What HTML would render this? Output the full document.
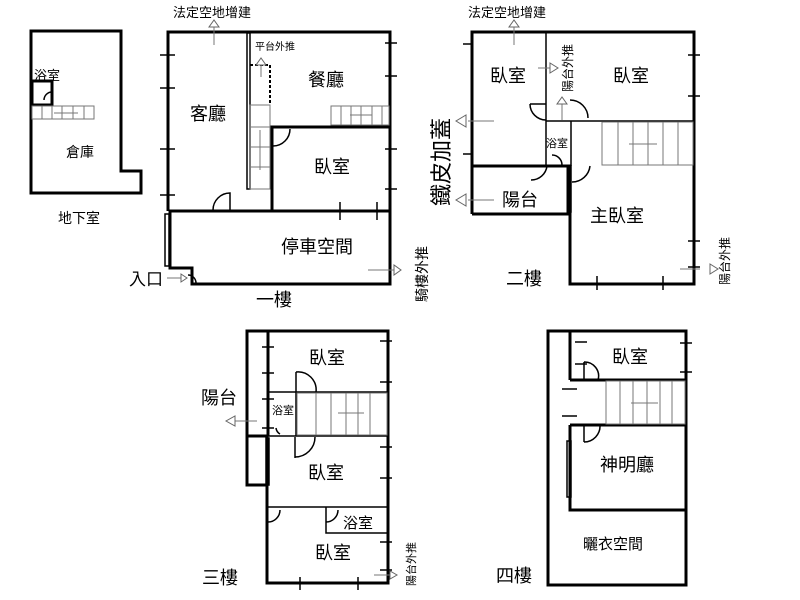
<!DOCTYPE html>
<html><head><meta charset="utf-8"><style>
body{margin:0;background:#fff;}
svg{display:block;}
text{font-family:"Liberation Sans","Noto Sans CJK TC",sans-serif;fill:#000;}
.w{stroke:#000;stroke-width:3;fill:none;}
.t{stroke:#000;stroke-width:1.5;fill:none;}
.g{stroke:#777;stroke-width:1;fill:none;}
.ar{stroke:#666;stroke-width:1;fill:#fff;}
</style></head><body>
<svg width="800" height="600" viewBox="0 0 800 600" xmlns="http://www.w3.org/2000/svg">
<!-- Basement -->
<polygon class="w" points="31,31 121,31 121,171 141,171 141,193 31,193"/>
<rect class="w" x="32" y="81" width="20" height="24"/>
<path class="t" d="M44,100 a8,8 0 0 1 8,-8"/>
<rect class="g" x="32" y="106" width="62" height="13"/>
<path class="g" d="M42,106v13M52,106v13M62,106v13M73,106v13M84,106v13M54,113h24"/>
<text x="34" y="80" font-size="13">浴室</text>
<text x="66" y="157" font-size="14">倉庫</text>
<text x="58" y="223" font-size="14">地下室</text>

<!-- First floor -->
<polyline class="w" points="168,211 168,32 390,32 390,284 192,284 192,268 170,268 170,211 390,211"/>
<rect class="t" x="165" y="214" width="4" height="52"/>
<rect class="t" x="247" y="33" width="3" height="156"/>
<rect class="g" x="250" y="105" width="20" height="84"/>
<path class="g" d="M250,127h20M250,147h20M250,167h20M260,170v-40"/>
<path d="M250,65h20v40" stroke="#000" stroke-width="2" stroke-dasharray="3,2" fill="none"/>
<polyline class="w" points="272,211 272,127 390,127"/>
<rect class="g" x="331" y="106" width="58" height="19"/>
<path class="g" d="M341,106v19M351,106v19M361,106v19M372,106v19M382,106v19M350,115h22"/>
<path class="t" d="M273,146 a17,17 0 0 0 17,-17M213,210 a17,17 0 0 1 17,-17v17M196,283 a8,8 0 0 0 -8,-8"/>
<path class="t" d="M160,55h15M160,88h15M160,149h15M160,195h15M385,43h12M385,76h12M385,149h12M385,189h12M340,202v18M377,202v18"/>
<text x="190" y="120" font-size="18">客廳</text>
<text x="308" y="86" font-size="18">餐廳</text>
<text x="314" y="173" font-size="18">臥室</text>
<text x="281" y="253" font-size="18">停車空間</text>
<text x="129" y="285" font-size="17">入口</text>
<text x="256" y="306" font-size="18">一樓</text>
<text x="173" y="17" font-size="13">法定空地增建</text>
<text x="255" y="50" font-size="10" fill="#444">平台外推</text>
<path class="g" d="M214,45v-18M261,77v-13M368,270h26M167,278h15"/>
<polygon class="ar" points="209,27 219,27 214,20"/><polygon class="ar" points="256,65 266,65 261,58"/>
<polygon class="ar" points="394,265 394,275 401,270"/><polygon class="ar" points="181,274 181,282 187,278"/>
<text font-size="14" transform="translate(427,302) rotate(-90)">騎樓外推</text>

<!-- Second floor -->
<polyline class="w" points="472,214 472,32 694,32 694,284 570,284 570,166 472,166"/>
<polyline class="w" points="472,214 568,214 568,166"/>
<path class="t" d="M546,32v134M546,121h148M571,121v45"/>
<rect class="g" x="602" y="122" width="91" height="43"/>
<path class="g" d="M618,122v43M633,122v43M648,122v43M663,122v43M678,122v43M629,144h28"/>
<rect class="t" x="568" y="166" width="3" height="46"/>
<path class="t" d="M570,100 a18,18 0 0 1 18,18M530,104 h16M530,104a16,16 0 0 0 16,16M531,180a16,16 0 0 0 16,-14M562,165a10,10 0 0 0 -10,-10M572,182a18,18 0 0 0 18,-16"/>
<path class="t" d="M463,44h8M463,154h8M688,55h12M688,96h12M688,241h12M688,267h12M597,276v14M663,276v14"/>
<text x="490" y="82" font-size="18">臥室</text>
<text x="613" y="82" font-size="18">臥室</text>
<text x="502" y="206" font-size="18">陽台</text>
<text x="590" y="222" font-size="18">主臥室</text>
<text x="506" y="285" font-size="18">二樓</text>
<text x="546" y="147" font-size="11">浴室</text>
<text x="468" y="17" font-size="13">法定空地增建</text>
<text font-size="22" transform="translate(449,206) rotate(-90)">鐵皮加蓋</text>
<text font-size="12" transform="translate(572,92) rotate(-90)">陽台外推</text>
<text font-size="12" transform="translate(729,285) rotate(-90)">陽台外推</text>
<path class="g" d="M514,45v-18M494,121h-26M494,200h-26M538,68h12M562,120v-17M680,269h20"/>
<polygon class="ar" points="509,27 519,27 514,20"/>
<polygon class="ar" points="466,115 466,127 456,121"/><polygon class="ar" points="466,194 466,206 456,200"/>
<polygon class="ar" points="550,63 550,73 558,68"/><polygon class="ar" points="557,104 567,104 562,97"/>
<polygon class="ar" points="710,264 710,274 718,269"/>

<!-- Third floor -->
<polyline class="w" points="268,331 388,331 388,583 267,583 267,436 247,436 247,331 268,331"/>
<path class="w" d="M247,331v154h20M268,331v105"/>
<path class="t" d="M268,392h120M268,436h120M296,392v44M267,507h121M326,507v26h62"/>
<rect class="t" x="266" y="438" width="3" height="47"/>
<rect class="g" x="297" y="393" width="90" height="42"/>
<path class="g" d="M316,393v42M331,393v42M346,393v42M358,393v42M370,393v42M338,413h26"/>
<path class="t" d="M296,372a18,18 0 0 1 20,20M296,372v20M295,457a20,20 0 0 0 20,-20M295,437v21M268,522a12,12 0 0 0 12,-12M326,522a12,12 0 0 0 12,-12M280,434a8,8 0 0 1 -4,-6"/>
<path class="t" d="M262,347h12M262,373h12M262,399h12M262,428h12M380,341h12M380,382h12M380,447h12M380,478h12M380,542h12M380,570h12M300,577v13M358,577v13"/>
<text x="309" y="364" font-size="18">臥室</text>
<text x="201" y="404" font-size="18">陽台</text>
<text x="272" y="414" font-size="11">浴室</text>
<text x="308" y="479" font-size="18">臥室</text>
<text x="343" y="528" font-size="15">浴室</text>
<text x="315" y="559" font-size="18">臥室</text>
<text x="202" y="584" font-size="18">三樓</text>
<text font-size="11" transform="translate(415,586) rotate(-90)">陽台外推</text>
<path class="g" d="M257,421h-22M374,575h18"/>
<polygon class="ar" points="235,416 235,426 226,421"/><polygon class="ar" points="390,571 390,579 397,575"/>

<!-- Fourth floor -->
<rect class="w" x="548" y="331" width="138" height="254"/>
<path class="w" d="M570,331v49M570,380h116M570,425h116M570,425v85h116"/>
<rect class="t" x="567" y="441" width="4" height="56"/>
<rect class="g" x="606" y="381" width="79" height="43"/>
<path class="g" d="M620,381v43M633,381v43M647,381v43M660,381v43M672,381v43M631,403h27"/>
<path class="t" d="M584,362a14,14 0 0 1 14,18M584,362v18M584,442a16,16 0 0 0 16,-17M584,425v17"/>
<path class="t" d="M575,342h12M575,364h12M562,389h15M562,416h15M680,343h12M680,372h12"/>
<text x="612" y="363" font-size="18">臥室</text>
<text x="600" y="471" font-size="18">神明廳</text>
<text x="583" y="549" font-size="15">曬衣空間</text>
<text x="496" y="582" font-size="18">四樓</text>
</svg>
</body></html>
